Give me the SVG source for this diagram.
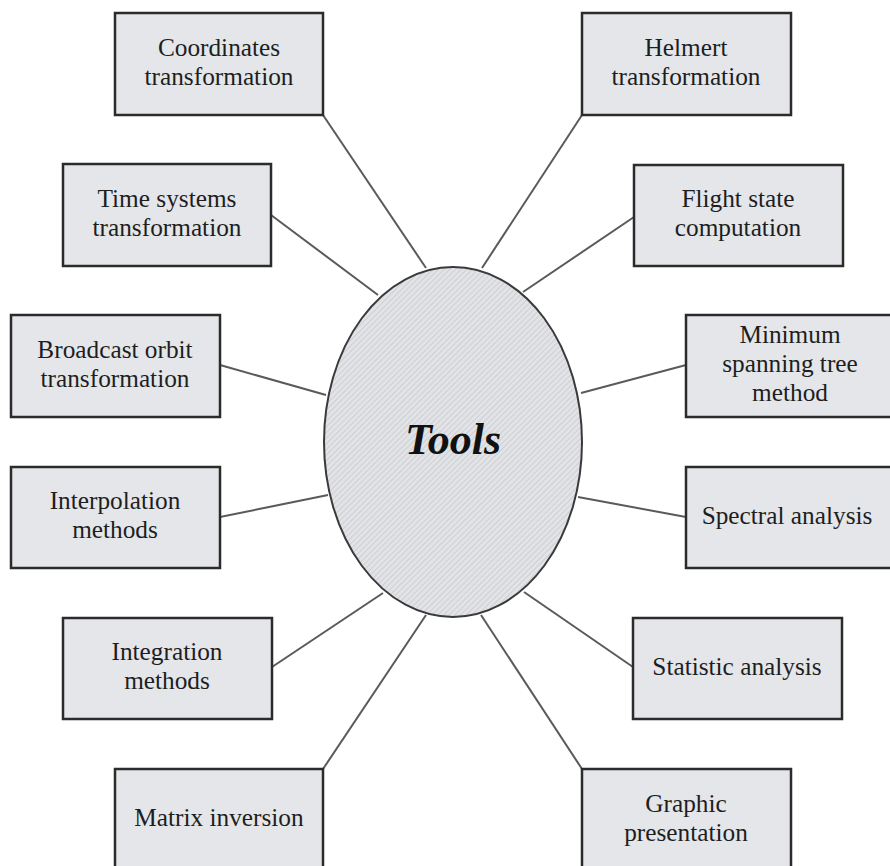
<svg xmlns="http://www.w3.org/2000/svg" width="890" height="866" viewBox="0 0 890 866">
<style>
.box{fill:#e4e6ea;stroke:#2b2b2b;stroke-width:2.5}
.lbl{font-family:"Liberation Serif","Times New Roman",serif;font-size:25.3px;fill:#1e1e1e;text-anchor:middle}
.con line{stroke:#5a5a5a;stroke-width:2}
</style>
<defs>
<pattern id="hatch" width="4" height="4" patternUnits="userSpaceOnUse" patternTransform="rotate(45)">
<rect width="4" height="4" fill="#e2e3e6"/>
<line x1="0" y1="0" x2="0" y2="4" stroke="#c4c5c9" stroke-width="1.3"/>
</pattern>
</defs>
<rect width="890" height="866" fill="#ffffff"/>
<g class="con" id="connectors">
<line x1="323" y1="115" x2="426" y2="268"/>
<line x1="582" y1="115" x2="482" y2="268"/>
<line x1="271" y1="215" x2="378" y2="295"/>
<line x1="634" y1="217" x2="523" y2="292"/>
<line x1="220" y1="365" x2="326" y2="395"/>
<line x1="686" y1="365" x2="581" y2="393"/>
<line x1="220" y1="517" x2="328" y2="495"/>
<line x1="686" y1="517" x2="578" y2="497"/>
<line x1="272" y1="667" x2="383" y2="593"/>
<line x1="633" y1="667" x2="524" y2="592"/>
<line x1="323" y1="769" x2="426" y2="615"/>
<line x1="582" y1="769" x2="481" y2="615"/>
</g>
<g id="tools">
<ellipse cx="453" cy="442" rx="129" ry="175" fill="url(#hatch)" stroke="#3a3a3a" stroke-width="2"/>
<text x="453" y="454" font-family="'Liberation Serif','Times New Roman',serif" font-size="44" font-weight="bold" font-style="italic" text-anchor="middle" fill="#111">Tools</text>
</g>
<g id="coordinates">
<rect class="box" x="115" y="13" width="208" height="102"/>
<text class="lbl" x="219" y="56">Coordinates</text>
<text class="lbl" x="219" y="85">transformation</text>
</g>
<g id="helmert">
<rect class="box" x="582" y="13" width="209" height="102"/>
<text class="lbl" x="686" y="56">Helmert</text>
<text class="lbl" x="686" y="85">transformation</text>
</g>
<g id="timesystems">
<rect class="box" x="63" y="164" width="208" height="102"/>
<text class="lbl" x="167" y="207">Time systems</text>
<text class="lbl" x="167" y="236">transformation</text>
</g>
<g id="flightstate">
<rect class="box" x="634" y="165" width="209" height="101"/>
<text class="lbl" x="738" y="207">Flight state</text>
<text class="lbl" x="738" y="236">computation</text>
</g>
<g id="broadcast">
<rect class="box" x="11" y="315" width="209" height="102"/>
<text class="lbl" x="115" y="358">Broadcast orbit</text>
<text class="lbl" x="115" y="387">transformation</text>
</g>
<g id="minimum">
<rect class="box" x="686" y="315" width="210" height="102"/>
<text class="lbl" x="790" y="343">Minimum</text>
<text class="lbl" x="790" y="372">spanning tree</text>
<text class="lbl" x="790" y="401">method</text>
</g>
<g id="interpolation">
<rect class="box" x="11" y="467" width="209" height="101"/>
<text class="lbl" x="115" y="509">Interpolation</text>
<text class="lbl" x="115" y="538">methods</text>
</g>
<g id="spectral">
<rect class="box" x="686" y="467" width="210" height="101"/>
<text class="lbl" x="787" y="524">Spectral analysis</text>
</g>
<g id="integration">
<rect class="box" x="63" y="618" width="209" height="101"/>
<text class="lbl" x="167" y="660">Integration</text>
<text class="lbl" x="167" y="689">methods</text>
</g>
<g id="statistic">
<rect class="box" x="633" y="618" width="209" height="101"/>
<text class="lbl" x="737" y="675">Statistic analysis</text>
</g>
<g id="matrix">
<rect class="box" x="115" y="769" width="208" height="104"/>
<text class="lbl" x="219" y="826">Matrix inversion</text>
</g>
<g id="graphic">
<rect class="box" x="582" y="769" width="209" height="104"/>
<text class="lbl" x="686" y="812">Graphic</text>
<text class="lbl" x="686" y="841">presentation</text>
</g>
</svg>
